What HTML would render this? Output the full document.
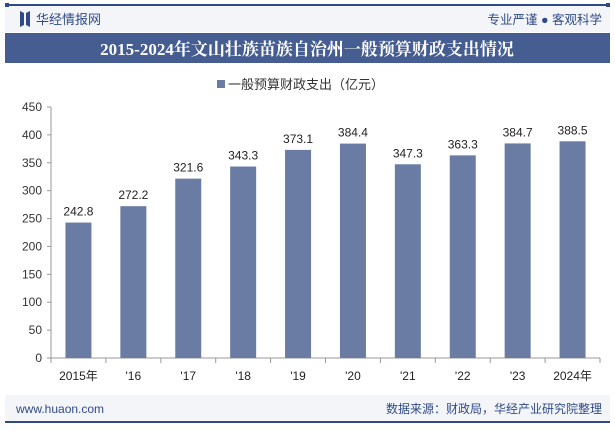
<!DOCTYPE html>
<html><head><meta charset="utf-8"><style>
body{margin:0;width:615px;height:427px;background:#fff;overflow:hidden;font-family:"Liberation Sans","Noto Sans CJK SC",sans-serif;}
</style></head><body>
<svg width="615" height="427" xmlns="http://www.w3.org/2000/svg">
<rect x="5" y="6" width="605" height="26" fill="#f3f5f9"/>
<rect x="5" y="4" width="605" height="2" fill="#2f4a86"/>
<rect x="5" y="3" width="4" height="4" fill="#2f4a86"/><rect x="606" y="3" width="4" height="4" fill="#2f4a86"/>
<path d="M20 11 L24 13 L24 25 L20 27 Z M26 13 L30 11 L30 27 L26 25 Z" fill="#2f4a86"/>
<text x="36" y="24" font-size="13" fill="#2f4a86">华经情报网</text>
<text x="602" y="24" font-size="12.5" fill="#2f4a86" text-anchor="end">专业严谨 ● 客观科学</text>
<rect x="5" y="33" width="605" height="30" fill="#455d91"/>
<text x="307" y="55" font-size="17" font-weight="bold" fill="#fff" text-anchor="middle" font-family="'Liberation Serif','Noto Serif CJK SC',serif">2015-2024年文山壮族苗族自治州一般预算财政支出情况</text>
<rect x="217" y="80" width="8" height="8" fill="#6a7ca3"/>
<text x="228" y="89" font-size="13" fill="#333">一般预算财政支出（亿元）</text>
<g id="plot"></g>
<rect x="5" y="395" width="605" height="26" fill="#f3f5f9"/>
<rect x="5" y="421" width="605" height="2" fill="#2f4a86"/>
<text x="16" y="413" font-size="12" fill="#2f4a86">www.huaon.com</text>
<text x="602" y="413" font-size="12" fill="#2f4a86" text-anchor="end">数据来源：财政局，华经产业研究院整理</text>
</svg>
<script>
const categories=["2015年","'16","'17","'18","'19","'20","'21","'22","'23","2024年"];
const values=[242.8,272.2,321.6,343.3,373.1,384.4,347.3,363.3,384.7,388.5];
const yTicks=[0,50,100,150,200,250,300,350,400,450];
const NS="http://www.w3.org/2000/svg";
const g=document.getElementById('plot');
const x0=51,x1=600,y0=358,y1=107,ymax=450;
const bw=(x1-x0)/categories.length;
const ys=v=>y0-(v/ymax)*(y0-y1);
function mk(t,a,txt){const e=document.createElementNS(NS,t);for(const k in a)e.setAttribute(k,a[k]);if(txt!==undefined)e.textContent=txt;g.appendChild(e);return e;}
yTicks.forEach(t=>{const e=mk('text',{x:42,y:ys(t)+4,'font-size':12,fill:'#333','text-anchor':'end'},t);

});
const ax=mk('line',{x1:x0,y1:y0,x2:x1,y2:y0,stroke:'#999'});


const ay=mk('line',{x1:x0,y1:y1,x2:x0,y2:y0,stroke:'#999'});


yTicks.forEach(t=>{mk('line',{x1:x0-4,y1:ys(t),x2:x0,y2:ys(t),stroke:'#999'});});
for(let i=0;i<=categories.length;i++){mk('line',{x1:x0+i*bw,y1:y0,x2:x0+i*bw,y2:y0+5,stroke:'#999'});}
categories.forEach((c,i)=>{
const cx=x0+bw*(i+0.5),v=values[i];
const r=mk('rect',{x:cx-13,y:ys(v),width:26,height:y0-ys(v),fill:'#6a7ca3'});


const l=mk('text',{x:cx,y:ys(v)-7,'font-size':12,fill:'#222','text-anchor':'middle'},v.toFixed(1));


const xl=mk('text',{x:cx,y:380,'font-size':12,fill:'#222','text-anchor':'middle'},c);


});
</script>
</body></html>
